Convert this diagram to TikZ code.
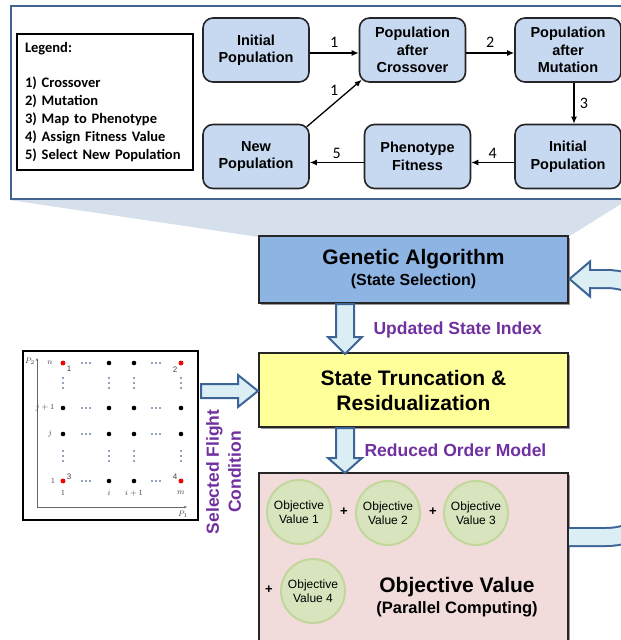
\documentclass[tikz,border=0pt]{standalone}
\usepackage{fontspec}
\setmainfont{Liberation Sans}
\newfontfamily\carlito{Carlito}
\usetikzlibrary{arrows.meta,shadows}

\definecolor{panelblue}{RGB}{65,100,145}
\definecolor{boxblue}{RGB}{198,217,241}
\definecolor{funnelblue}{RGB}{214,224,237}
\definecolor{gablue}{RGB}{142,180,227}
\definecolor{styellow}{RGB}{255,255,153}
\definecolor{ovpink}{RGB}{242,220,219}
\definecolor{ovgreen}{RGB}{215,228,189}
\definecolor{ovgreenedge}{RGB}{195,214,155}
\definecolor{arrowfill}{RGB}{219,238,244}
\definecolor{arrowedge}{RGB}{60,100,150}
\definecolor{labelpurple}{RGB}{112,48,160}
\definecolor{dotblue}{RGB}{40,70,120}

\tikzset{
  flowbox/.style={draw=black!85, line width=1.6pt, rounded corners=10pt, fill=boxblue,
    minimum width=106pt, minimum height=64pt, align=center,
    font=\fontsize{14.5}{17.5}\selectfont\bfseries},
  flow/.style={line width=1.3pt, -{Latex[length=7pt,width=6pt]}},
  steplabel/.style={font=\carlito\fontsize{16}{16}\selectfont},
  mainbox/.style={draw=black!85, line width=1.5pt, minimum width=309pt, align=center,
    drop shadow={shadow xshift=2pt, shadow yshift=-2pt, opacity=.4, fill=black}},
  ovcircle/.style={circle, draw=ovgreenedge, line width=2pt, fill=ovgreen, minimum size=64pt,
    inner sep=0pt, align=center, font=\fontsize{12}{14}\selectfont},
  plussign/.style={font=\fontsize{13}{13}\selectfont\bfseries},
  blockarrow/.style={draw=arrowedge, line width=2pt, fill=arrowfill, line join=miter},
  purplelabel/.style={text=labelpurple, font=\fontsize{17.5}{22}\selectfont\bfseries},
  griddot/.style={circle, inner sep=0pt, minimum size=4.6pt, fill=black},
  gridlabel/.style={inner sep=0pt, text=black!75, font=\fontsize{8}{9}\selectfont},
}

\begin{document}
\begin{tikzpicture}[x=1pt, y=-1pt]
    \useasboundingbox (0,0) rectangle (621,640);
    \clip (0,0) rectangle (621,640);
    \fill[white] (0,0) rectangle (621,640);

    % zoom funnel and the panel of the GA loop
    \fill[funnelblue] (10,200) -- (259,237) -- (568,237) -- (621,204) -- (621,200) -- cycle;
    \draw[panelblue, line width=2.5pt, fill=white] (11,6) rectangle (640,199);

    \node[draw, line width=1.2pt, minimum width=176pt, minimum height=136pt, text width=160pt,
      inner xsep=8pt, align=left, font=\carlito\bfseries\fontsize{14.5}{18}\selectfont] (legend) at (105,102)
      {Legend:\\[17pt]1) Crossover\\2) Mutation\\3) Map to Phenotype\\4) Assign Fitness Value\\5) Select New Population};

    \node[flowbox] (ini) at (256,50) {Initial\\Population};
    \node[flowbox] (cro) at (412.5,50) {Population\\after\\Crossover};
    \node[flowbox] (mut) at (568,50) {Population\\after\\Mutation};
    \node[flowbox] (ini2) at (568,156.5) {Initial\\Population};
    \node[flowbox] (phe) at (417.5,156.5) {Phenotype\\Fitness};
    \node[flowbox] (newp) at (256,156.5) {New\\Population};

    \draw[flow] ([yshift=-3pt]ini.east) to node[steplabel, above=2pt]{1} ([yshift=-3pt]cro.west);
    \draw[flow] ([yshift=-3pt]cro.east) to node[steplabel, above=2pt]{2} ([yshift=-3pt]mut.west);
    \draw[flow] ([xshift=6pt]mut.south) to node[steplabel, right=2pt]{3} ([xshift=6pt]ini2.north);
    \draw[flow] ([yshift=-6pt]ini2.west) to node[steplabel, above=0pt]{4} ([yshift=-6pt]phe.east);
    \draw[flow] ([yshift=-6pt]phe.west) to node[steplabel, above=0pt]{5} ([yshift=-6pt]newp.east);
    \draw[flow] ([shift={(-3,3)}]newp.north east) to node[steplabel, above=4pt]{1} ([shift={(3,-3)}]cro.south west);

    % main chain
    \node[mainbox, fill=gablue, minimum height=67pt, font=\bfseries\fontsize{16}{21}\selectfont] (ga) at (413.5,269.5)
      {{\fontsize{21}{25}\selectfont Genetic Algorithm}\\(State Selection)};
    \node[mainbox, fill=styellow, minimum height=74pt, font=\bfseries\fontsize{21}{25}\selectfont] (st) at (413.5,390)
      {State Truncation \&\\Residualization};
    \node[mainbox, fill=ovpink, minimum height=175pt, anchor=north] (ov) at (413.5,472) {};

    \node[ovcircle] (ov1) at (299,512) {Objective\\Value 1};
    \node[ovcircle] (ov2) at (388,513) {Objective\\Value 2};
    \node[ovcircle] (ov3) at (476,513) {Objective\\Value 3};
    \node[ovcircle] (ov4) at (313,591) {Objective\\Value 4};
    \node[plussign] (plus1) at (344,512) {+};
    \node[plussign] (plus2) at (433,512) {+};
    \node[plussign] (plus3) at (269,590) {+};
    \node[align=center, font=\bfseries\fontsize{16.5}{21}\selectfont] (ovlabel) at (457,597)
      {{\fontsize{21}{25}\selectfont Objective Value}\\(Parallel Computing)};

    % block arrows
    \draw[blockarrow] (336,304) -- (354,304) -- (354,337) -- (362,337) -- (345,354) -- (328,337) -- (336,337) -- cycle;
    \draw[blockarrow] (336,428) -- (354,428) -- (354,458) -- (362,458) -- (345,473) -- (328,458) -- (336,458) -- cycle;
    \draw[blockarrow] (201,384) -- (238,384) -- (238,375) -- (258,391) -- (238,407) -- (238,398) -- (201,398) -- cycle;
    \node[purplelabel, anchor=west] (upd) at (370,330) {Updated State Index};
    \node[purplelabel, anchor=west] (rom) at (361,450) {Reduced Order Model};
    \node[purplelabel, rotate=90, align=center] (sfc) at (223.5,472) {Selected Flight\\Condition};

    % loop back from the objective value to the GA
    \draw[arrowedge, line width=20pt] (569,537) -- (606,537) .. controls (720,537) and (720,279) .. (606,279) -- (589,279);
    \draw[arrowfill, line width=16pt] (569,537) -- (606,537) .. controls (720,537) and (720,279) .. (606,279) -- (589,279);
    \draw[blockarrow] (590,261.5) -- (569.5,279) -- (590,296.5) -- cycle;
    \draw[arrowfill, line width=16pt] (587,279) -- (596,279);

    % flight condition grid
    \node[draw, line width=2.5pt, fill=white, minimum width=175pt, minimum height=169pt] (grid) at (110.5,435.5) {};
    \draw[black!60, line width=0.5pt, -{Stealth[length=3pt,width=2.5pt]}] (37,507) -- (187,507);
    \draw[black!60, line width=0.5pt, -{Stealth[length=3pt,width=2.5pt]}] (37,507) -- (37,358);
    \foreach \gx in {63,109,134,181}{
      \foreach \gy in {363,408,434,481}
        \node[griddot] (d-\gx-\gy) at (\gx,\gy) {};
      \foreach \vy in {378,383,388,451,456,461}
        \fill[dotblue] (\gx,\vy) circle (0.8pt);
    }
    \foreach \gy in {363,408,434,481}
      \foreach \hx in {82,86,90,152,156,160}
        \fill[dotblue] (\hx,\gy) circle (0.8pt);
    \node[griddot, fill=red] (r1) at (63,363) {};
    \node[griddot, fill=red] (r2) at (181,363) {};
    \node[griddot, fill=red] (r3) at (63,481) {};
    \node[griddot, fill=red] (r4) at (181,481) {};
    \node[gridlabel] (rn) at (50,363) {$n$};
    \node[gridlabel] (rj1) at (45,408) {$j+1$};
    \node[gridlabel] (rj) at (50,434) {$j$};
    \node[gridlabel] (r1l) at (53,481) {$1$};
    \node[gridlabel] (c1l) at (63,493) {$1$};
    \node[gridlabel] (cil) at (109,493) {$i$};
    \node[gridlabel] (ci1l) at (134,493) {$i+1$};
    \node[gridlabel] (cml) at (181,493) {$m$};
    \node[gridlabel] (k1) at (69,369) {1};
    \node[gridlabel] (k2) at (175,370) {2};
    \node[gridlabel] (k3) at (69,477) {3};
    \node[gridlabel] (k4) at (175,477) {4};
    \node[gridlabel] (ptwo) at (30,361) {$P_2$};
    \node[gridlabel] (pone) at (183,514) {$P_1$};
\end{tikzpicture}
\end{document}
